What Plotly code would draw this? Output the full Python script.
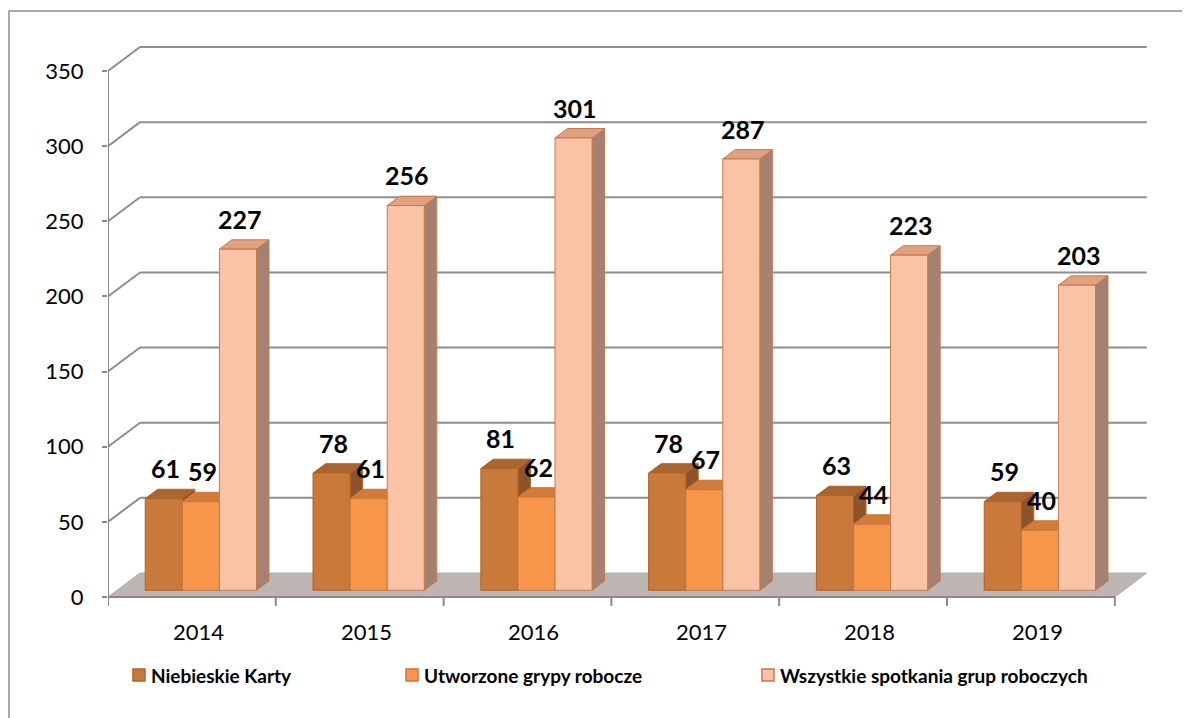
import numpy as np
import plotly.graph_objects as go

years = ["2014", "2015", "2016", "2017", "2018", "2019"]
niebieskie_karty = [61, 78, 81, 78, 63, 59]
utworzone_grupy = [59, 61, 62, 67, 44, 40]
wszystkie_spotkania = [227, 256, 301, 287, 223, 203]
series_names = ["Niebieskie Karty", "Utworzone grypy robocze", "Wszystkie spotkania grup roboczych"]
y_ticks = [0, 50, 100, 150, 200, 250, 300, 350]

# colours: front, top, side, outline
kolory = [
    ("#C97A3A", "#A9652F", "#8C5428", "#B0642A"),
    ("#F7964A", "#D27C3B", "#B86A30", "#C9743A"),
    ("#FAC3A6", "#E1A07F", "#A68071", "#C27A4E"),
]

# page geometry in page pixels (the page body adds an 8 px margin)
OFF = 8
W, H = 1190 - OFF, 718 - OFF
L_PX, R_PX, T_PX, B_PX = 108, 1160, 30, 615
ZERO_PX = 597
CAT_PX = 167.8
Y_PX = 526 / 350

x_range = [-0.5, -0.5 + (R_PX - L_PX) / CAT_PX]
y_range = [-(B_PX - ZERO_PX) / Y_PX, (ZERO_PX - T_PX) / Y_PX]

DEPTH_X = 32 / CAT_PX
DEPTH_Y = 24 / Y_PX
Z0, Z1 = 0.28, 0.67
BAR_W = 0.221


def proj(x, y, z):
    return x + z * DEPTH_X, y + z * DEPTH_Y


def px2paper(px, py):
    return (px - L_PX) / (R_PX - L_PX), (B_PX - py) / (B_PX - T_PX)


def poly(pts):
    xs, ys = [], []
    for p in pts:
        x, y = proj(*p)
        xs.append(x)
        ys.append(y)
    xs.append(xs[0])
    ys.append(ys[0])
    return xs, ys


fig = go.Figure()
shapes = []
grid = dict(color="#8E8E8E", width=2)
n = len(years)
x_lo, x_hi = -0.5, n - 0.5

# back wall + side wall gridlines
for v in y_ticks[1:]:
    a = proj(x_lo, v, 0)
    b = proj(x_lo, v, 1)
    c = proj(x_hi, v, 1)
    shapes.append(dict(type="line", x0=a[0], y0=a[1], x1=b[0], y1=b[1], line=grid, layer="below"))
    shapes.append(dict(type="line", x0=b[0], y0=b[1], x1=c[0], y1=c[1], line=grid, layer="below"))

# floor
fx, fy = poly([(x_lo, 0, 0), (x_hi, 0, 0), (x_hi, 0, 1), (x_lo, 0, 1)])
path = "M " + " L ".join(f"{a},{b}" for a, b in zip(fx[:-1], fy[:-1])) + " Z"
shapes.append(dict(type="path", path=path, fillcolor="#BDB5B1", line=dict(color="#B5ADA9", width=1), layer="below"))

# front axes
shapes.append(dict(type="line", x0=x_lo, y0=0, x1=x_hi, y1=0, line=dict(color="#8A8A8A", width=2), layer="below"))
shapes.append(dict(type="line", x0=x_lo, y0=0, x1=x_lo, y1=y_ticks[-1], line=dict(color="#8A8A8A", width=2), layer="below"))
for i in range(n + 1):
    xb = x_lo + i
    shapes.append(dict(type="line", x0=xb, y0=0, x1=xb, y1=-9 / Y_PX, line=dict(color="#8A8A8A", width=2), layer="below"))

dane = [niebieskie_karty, utworzone_grupy, wszystkie_spotkania]
annotations = []
for k, vals in enumerate(dane):
    front_c, top_c, side_c, edge_c = kolory[k]
    sx, sy, tx, ty, fxs, fys = [], [], [], [], [], []
    for i, v in enumerate(vals):
        x0 = i - 1.5 * BAR_W + k * BAR_W
        x1 = x0 + BAR_W
        a, b = poly([(x1, 0, Z0), (x1, 0, Z1), (x1, v, Z1), (x1, v, Z0)])
        sx += a + [None]
        sy += b + [None]
        a, b = poly([(x0, v, Z0), (x1, v, Z0), (x1, v, Z1), (x0, v, Z1)])
        tx += a + [None]
        ty += b + [None]
        a, b = poly([(x0, 0, Z0), (x1, 0, Z0), (x1, v, Z0), (x0, v, Z0)])
        fxs += a + [None]
        fys += b + [None]
        lx, _ = proj((x0 + x1) / 2, 0, Z0 + 0.05)
        _, ly = proj(0, v, Z1)
        annotations.append(dict(x=lx, y=ly, text=f"<b>{v}</b>", showarrow=False, yanchor="bottom", yshift=4,
                                font=dict(family="Lato", size=25, color="black")))
    for xs, ys, col in [(sx, sy, side_c), (tx, ty, top_c), (fxs, fys, front_c)]:
        fig.add_trace(go.Scatter(x=xs, y=ys, mode="lines", fill="toself", fillcolor=col,
                                 line=dict(color=edge_c, width=1), hoverinfo="skip", showlegend=False))

# category labels
for i, yr in enumerate(years):
    cx, _ = proj(i, 0, 0.2)
    annotations.append(dict(x=cx, y=0, text=yr, showarrow=False, yanchor="top", yshift=-19,
                            font=dict(family="Lato", size=22, color="black")))

# legend
leg_x = [133, 406, 762]
leg_y = 675
for k, name in enumerate(series_names):
    x0, y0 = px2paper(leg_x[k], leg_y - 6)
    x1, y1 = px2paper(leg_x[k] + 12, leg_y + 6)
    shapes.append(dict(type="rect", xref="paper", yref="paper", x0=x0, y0=y0, x1=x1, y1=y1,
                       fillcolor=kolory[k][0], line=dict(color=kolory[k][3], width=1.5)))
    tx0, ty0 = px2paper(leg_x[k] + 16, leg_y)
    annotations.append(dict(xref="paper", yref="paper", x=tx0, y=ty0, text=f"<b>{name}</b>", showarrow=False,
                            xanchor="left", yanchor="middle", font=dict(family="Lato", size=19, color="black")))

# outer border
bx0, by0 = px2paper(9, 11)
bx1, by1 = px2paper(1210, 740)
shapes.append(dict(type="rect", xref="paper", yref="paper", x0=bx0, y0=by0, x1=bx1, y1=by1,
                   line=dict(color="#8C8C8C", width=1.5), layer="below"))

fig.update_layout(
    width=W,
    height=H,
    margin=dict(l=L_PX - OFF, r=W + OFF - R_PX, t=T_PX - OFF, b=H + OFF - B_PX),
    paper_bgcolor="white",
    plot_bgcolor="white",
    showlegend=False,
    shapes=shapes,
    annotations=annotations,
    xaxis=dict(range=x_range, showgrid=False, zeroline=False, showticklabels=False, showline=False),
    yaxis=dict(range=y_range, showgrid=False, zeroline=False, showline=False, tickvals=y_ticks,
               ticks="outside", ticklen=5, tickwidth=2, tickcolor="#8A8A8A", ticklabelstandoff=14,
               tickfont=dict(family="Lato", size=22, color="black")),
)

fig.write_html("out.html")
